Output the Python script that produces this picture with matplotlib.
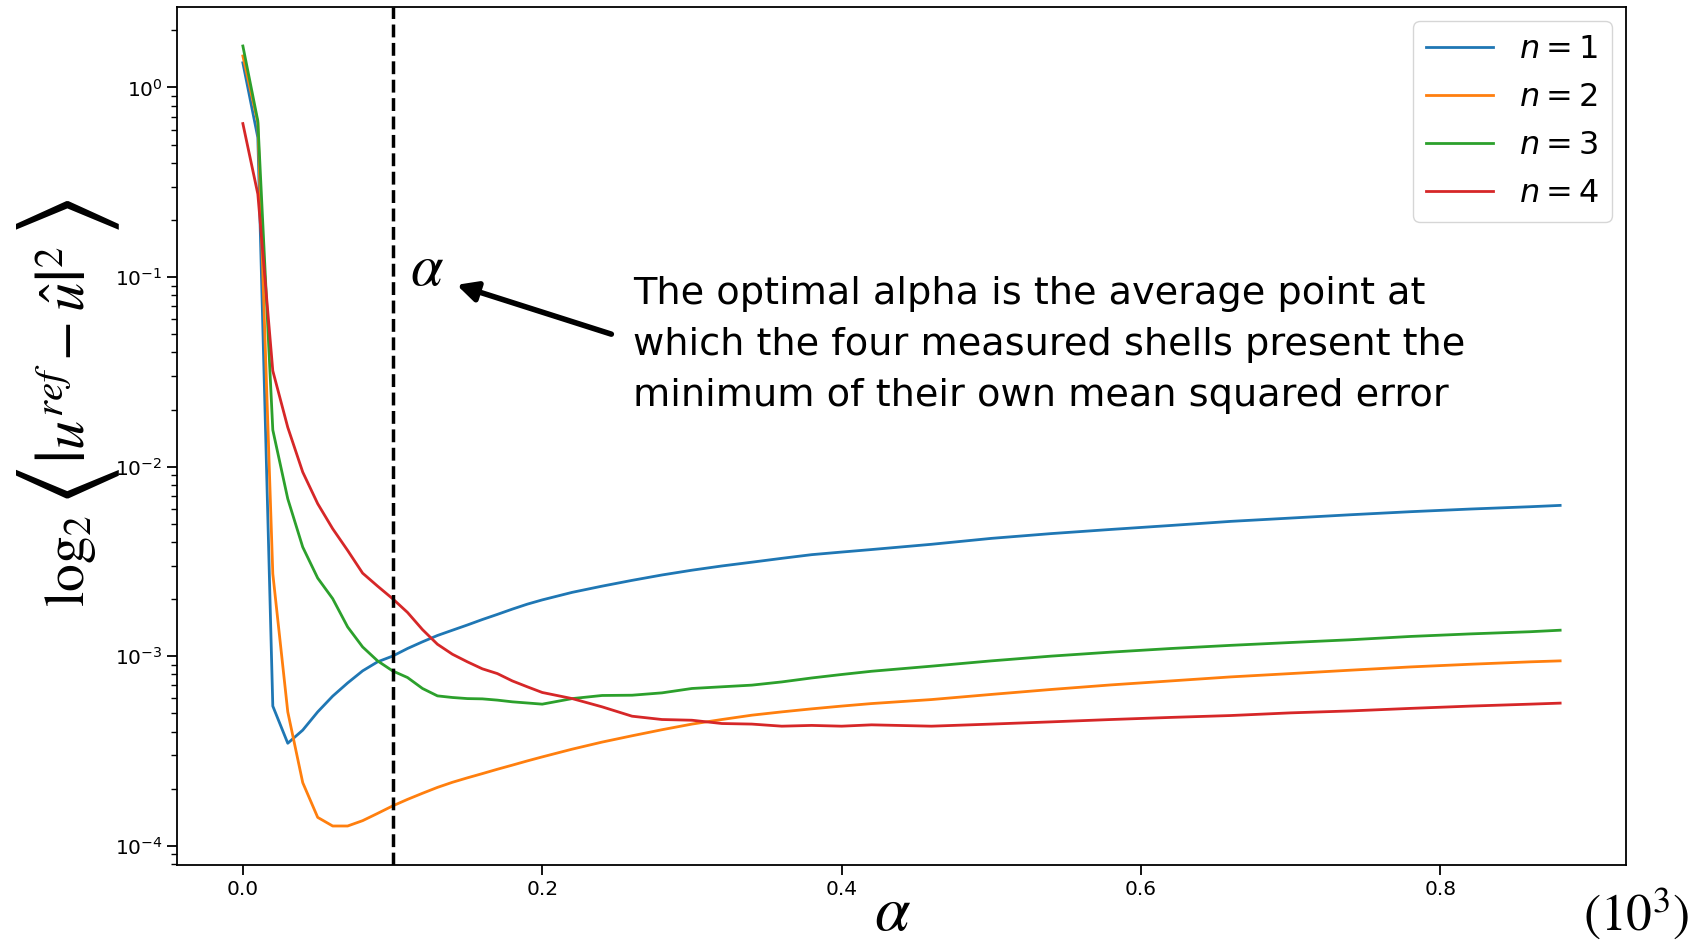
import matplotlib
matplotlib.use("Agg")
import matplotlib.pyplot as plt

# alpha values (units of 10^3)
alpha = [0.00, 0.01, 0.02, 0.03, 0.04, 0.05, 0.06, 0.07, 0.08, 0.09, 0.10,
         0.11, 0.12, 0.13, 0.14, 0.15, 0.16, 0.17, 0.18, 0.19, 0.20,
         0.22, 0.24, 0.26, 0.28, 0.30, 0.32, 0.34, 0.36, 0.38, 0.40, 0.42,
         0.46, 0.50, 0.54, 0.58, 0.62, 0.66, 0.70, 0.74, 0.78, 0.82, 0.86, 0.88]

mse_n1 = [1.35, 0.544, 5.45e-4, 3.47e-4, 4.07e-4, 5.08e-4, 6.15e-4, 7.22e-4, 8.36e-4, 9.33e-4, 1.0e-3,
          1.097e-3, 1.19e-3, 1.285e-3, 1.37e-3, 1.46e-3, 1.56e-3, 1.66e-3, 1.77e-3, 1.88e-3, 1.98e-3,
          2.17e-3, 2.34e-3, 2.51e-3, 2.68e-3, 2.84e-3, 2.99e-3, 3.13e-3, 3.28e-3, 3.43e-3, 3.54e-3, 3.65e-3,
          3.89e-3, 4.18e-3, 4.43e-3, 4.66e-3, 4.89e-3, 5.14e-3, 5.35e-3, 5.57e-3, 5.78e-3, 5.97e-3, 6.14e-3, 6.24e-3]

mse_n2 = [1.466, 0.65, 2.72e-3, 5.08e-4, 2.15e-4, 1.41e-4, 1.27e-4, 1.27e-4, 1.355e-4, 1.48e-4, 1.62e-4,
          1.755e-4, 1.89e-4, 2.03e-4, 2.16e-4, 2.28e-4, 2.40e-4, 2.53e-4, 2.66e-4, 2.80e-4, 2.94e-4,
          3.23e-4, 3.52e-4, 3.80e-4, 4.09e-4, 4.38e-4, 4.63e-4, 4.88e-4, 5.08e-4, 5.27e-4, 5.45e-4, 5.62e-4,
          5.90e-4, 6.28e-4, 6.67e-4, 7.05e-4, 7.40e-4, 7.77e-4, 8.09e-4, 8.43e-4, 8.77e-4, 9.06e-4, 9.33e-4, 9.44e-4]

mse_n3 = [1.655, 0.666, 1.56e-2, 6.76e-3, 3.76e-3, 2.58e-3, 2.01e-3, 1.425e-3, 1.118e-3, 9.44e-4, 8.36e-4,
          7.71e-4, 6.75e-4, 6.17e-4, 6.05e-4, 5.97e-4, 5.95e-4, 5.86e-4, 5.74e-4, 5.66e-4, 5.58e-4,
          5.97e-4, 6.20e-4, 6.22e-4, 6.40e-4, 6.75e-4, 6.89e-4, 7.03e-4, 7.31e-4, 7.67e-4, 8.00e-4, 8.32e-4,
          8.85e-4, 9.44e-4, 1.0e-3, 1.05e-3, 1.097e-3, 1.14e-3, 1.18e-3, 1.22e-3, 1.27e-3, 1.31e-3, 1.345e-3, 1.37e-3]

mse_n4 = [0.645, 0.274, 3.2e-2, 1.61e-2, 9.35e-3, 6.37e-3, 4.70e-3, 3.61e-3, 2.74e-3, 2.34e-3, 2.01e-3,
          1.70e-3, 1.38e-3, 1.155e-3, 1.023e-3, 9.33e-4, 8.57e-4, 8.09e-4, 7.40e-4, 6.89e-4, 6.43e-4,
          5.97e-4, 5.40e-4, 4.82e-4, 4.63e-4, 4.59e-4, 4.41e-4, 4.38e-4, 4.27e-4, 4.31e-4, 4.27e-4, 4.34e-4,
          4.27e-4, 4.38e-4, 4.50e-4, 4.63e-4, 4.75e-4, 4.86e-4, 5.02e-4, 5.14e-4, 5.30e-4, 5.45e-4, 5.58e-4, 5.65e-4]

series = [mse_n1, mse_n2, mse_n3, mse_n4]
labels = ["$n = 1$", "$n = 2$", "$n = 3$", "$n = 4$"]
alpha_opt = 0.1

note_lines = ["The optimal alpha is the average point at",
              "which the four measured shells present the",
              "minimum of their own mean squared error"]

W, H = 1696, 941
fig = plt.figure(figsize=(W / 100, H / 100), dpi=100)
ax = fig.add_axes([177 / W, 1 - 865 / H, (1626 - 177) / W, (865 - 7) / H])

for y, lab in zip(series, labels):
    ax.plot(alpha, y, lw=2.0, label=lab)
ax.axvline(alpha_opt, color="black", ls="--", lw=2.5)
ax.set_yscale("log")

ax.tick_params(which="major", labelsize=14.5, length=7, width=1.3)
ax.tick_params(which="minor", length=4, width=1.0)
for s in ax.spines.values():
    s.set_linewidth(1.3)

ax.legend(loc="upper right", fontsize=23, handlelength=2.1, labelspacing=0.53,
          borderaxespad=0.45)

# y label pasted in pieces (big angle brackets), rotated
ylabel_parts = [(r"$\log_2$", 40, 70, 561),
                (r"$\langle$", 80, 68, 487),
                (r"$\left|u^{ref}-\hat{u}\right|^2$", 42, 68, 355),
                (r"$\rangle$", 80, 68, 218)]
for txt, fs, px, py in ylabel_parts:
    fig.text(px / W, 1 - py / H, txt, rotation=90, ha="center", va="center",
             fontsize=fs, math_fontfamily="stix")

fig.text(893 / W, 1 - 912 / H, r"$\alpha$", ha="center", va="center",
         fontsize=46, math_fontfamily="stix")
fig.text(1636 / W, 1 - 914 / H, r"$(10^3)$", ha="center", va="center",
         fontsize=37, math_fontfamily="stix")
fig.text(427 / W, 1 - 268 / H, r"$\alpha$", ha="center", va="center",
         fontsize=42, math_fontfamily="stix")

ax.annotate("", xy=(454, H - 284), xycoords="figure pixels",
            xytext=(614, H - 335), textcoords="figure pixels",
            arrowprops=dict(arrowstyle="-|>", lw=4, color="black", mutation_scale=30))

for i, line in enumerate(note_lines):
    fig.text(633 / W, 1 - (304 + 51 * i) / H, line, ha="left", va="baseline",
             fontsize=27.5, family="DejaVu Sans")

fig.savefig("out.png", dpi=100)
